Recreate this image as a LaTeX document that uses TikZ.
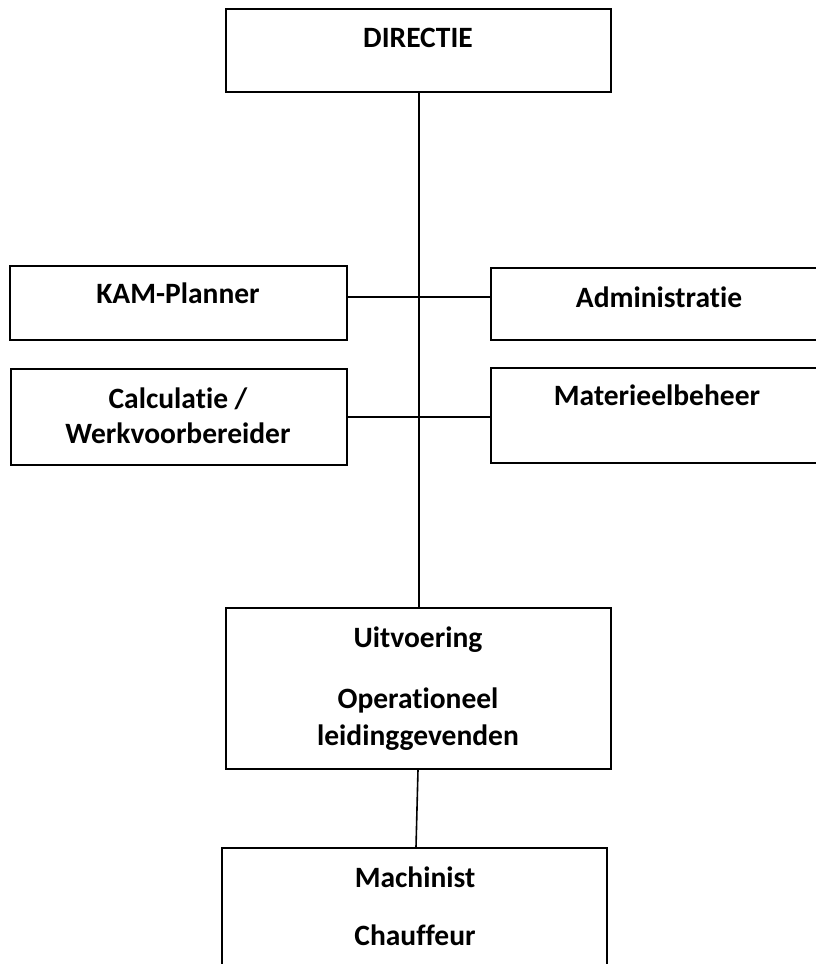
\documentclass[tikz,border=0pt]{standalone}
\usepackage{fontspec}
\setmainfont{Carlito}[Ligatures=NoCommon]
\begin{document}
\begin{tikzpicture}[x=1pt,y=-1pt,
  box/.style={draw=black,line width=1.6pt,rectangle,inner sep=0pt,fill=white},
  lbl/.style={font=\fontsize{29.5}{36}\selectfont\bfseries,anchor=base,inner sep=0pt},
  conn/.style={draw=black,line width=1.6pt}]
\useasboundingbox (0,0) rectangle (816,964);
\clip (0,0) rectangle (816,964);
\fill[white] (0,0) rectangle (816,964);
% boxes
\node[box,minimum width=385pt,minimum height=83pt] (dir) at (418.5,50.5) {};
\node[box,minimum width=337pt,minimum height=74pt] (kam) at (178.5,303) {};
\node[box,minimum width=336pt,minimum height=72pt] (adm) at (659,304) {};
\node[box,minimum width=336pt,minimum height=96pt] (calc) at (179,417) {};
\node[box,minimum width=336pt,minimum height=95pt] (mat) at (659,415.5) {};
\node[box,minimum width=385pt,minimum height=161pt] (uit) at (418.5,688.5) {};
\node[box,minimum width=385pt,minimum height=160pt] (mac) at (414.5,928) {};
% texts
\node[lbl] (tdir) at (418,47) {DIRECTIE};
\node[lbl] (tkam) at (178,303) {KAM-Planner};
\node[lbl] (tadm) at (659,307) {Administratie};
\node[lbl] (tcalc1) at (178,408) {Calculatie /};
\node[lbl] (tcalc2) at (178,443) {Werkvoorbereider};
\node[lbl] (tmat) at (657,405) {Materieelbeheer};
\node[lbl] (tuit1) at (418,647) {Uitvoering};
\node[lbl] (tuit2) at (418,708) {Operationeel};
\node[lbl] (tuit3) at (418,745) {leidinggevenden};
\node[lbl] (tmac1) at (415,887) {Machinist};
\node[lbl] (tmac2) at (415,945) {Chauffeur};
% connectors
\coordinate (h1) at (419,297);
\draw[conn] (dir.south -| h1) -- (uit.north -| h1);
\draw[conn] (kam.east |- h1) -- (adm.west |- h1);
\draw[conn] (calc.east) -- (mat.west |- calc.east);
\coordinate (u1) at (418,769);
\coordinate (m1) at (416,848);
\draw[conn] (uit.south -| u1) -- (mac.north -| m1);
\end{tikzpicture}
\end{document}
